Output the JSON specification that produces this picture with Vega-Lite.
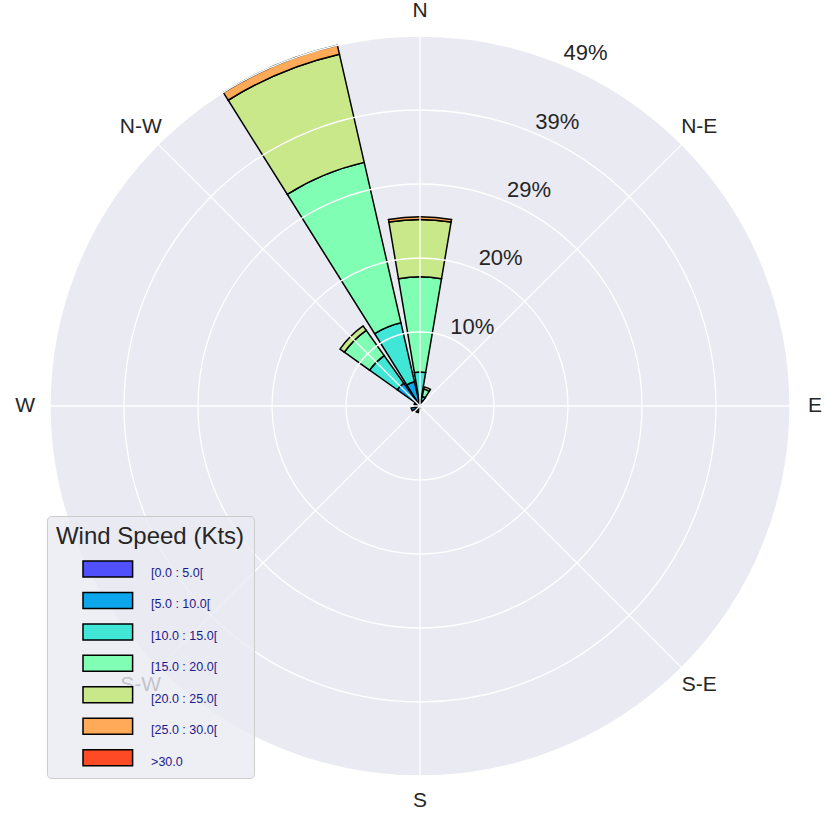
{
  "$schema": "https://vega.github.io/schema/vega-lite/v6.json",
  "autosize": "none",
  "width": 816,
  "height": 812,
  "padding": {"left": 12, "top": 0, "right": 0, "bottom": 3},
  "background": "white",
  "config": {"view": {"stroke": null}, "font": "Liberation Sans"},
  "datasets": {
    "wind": [
      {"dir": 337.5, "rank": 0, "bin": "[0.0 : 5.0[", "pct": 0.4},
      {"dir": 337.5, "rank": 1, "bin": "[5.0 : 10.0[", "pct": 2.9},
      {"dir": 337.5, "rank": 2, "bin": "[10.0 : 15.0[", "pct": 8.0},
      {"dir": 337.5, "rank": 3, "bin": "[15.0 : 20.0[", "pct": 21.8},
      {"dir": 337.5, "rank": 4, "bin": "[20.0 : 25.0[", "pct": 14.7},
      {"dir": 337.5, "rank": 5, "bin": "[25.0 : 30.0[", "pct": 1.2},
      {"dir": 0, "rank": 0, "bin": "[0.0 : 5.0[", "pct": 0.2},
      {"dir": 0, "rank": 1, "bin": "[5.0 : 10.0[", "pct": 0.6},
      {"dir": 0, "rank": 2, "bin": "[10.0 : 15.0[", "pct": 3.7},
      {"dir": 0, "rank": 3, "bin": "[15.0 : 20.0[", "pct": 12.6},
      {"dir": 0, "rank": 4, "bin": "[20.0 : 25.0[", "pct": 7.6},
      {"dir": 0, "rank": 5, "bin": "[25.0 : 30.0[", "pct": 0.35},
      {"dir": 315, "rank": 0, "bin": "[0.0 : 5.0[", "pct": 0.5},
      {"dir": 315, "rank": 1, "bin": "[5.0 : 10.0[", "pct": 3.2},
      {"dir": 315, "rank": 2, "bin": "[10.0 : 15.0[", "pct": 4.5},
      {"dir": 315, "rank": 3, "bin": "[15.0 : 20.0[", "pct": 4.1},
      {"dir": 315, "rank": 4, "bin": "[20.0 : 25.0[", "pct": 0.7},
      {"dir": 22.5, "rank": 0, "bin": "[0.0 : 5.0[", "pct": 0.2},
      {"dir": 22.5, "rank": 1, "bin": "[5.0 : 10.0[", "pct": 0.5},
      {"dir": 22.5, "rank": 2, "bin": "[10.0 : 15.0[", "pct": 0.6},
      {"dir": 22.5, "rank": 3, "bin": "[15.0 : 20.0[", "pct": 1.0},
      {"dir": 22.5, "rank": 4, "bin": "[20.0 : 25.0[", "pct": 0.3},
      {"dir": 45, "rank": 0, "bin": "[0.0 : 5.0[", "pct": 0.2},
      {"dir": 292.5, "rank": 0, "bin": "[0.0 : 5.0[", "pct": 0.4},
      {"dir": 292.5, "rank": 1, "bin": "[5.0 : 10.0[", "pct": 0.4},
      {"dir": 270, "rank": 0, "bin": "[0.0 : 5.0[", "pct": 0.4},
      {"dir": 270, "rank": 1, "bin": "[5.0 : 10.0[", "pct": 0.3},
      {"dir": 247.5, "rank": 0, "bin": "[0.0 : 5.0[", "pct": 0.6},
      {"dir": 247.5, "rank": 1, "bin": "[5.0 : 10.0[", "pct": 0.6},
      {"dir": 225, "rank": 0, "bin": "[0.0 : 5.0[", "pct": 0.5},
      {"dir": 225, "rank": 1, "bin": "[5.0 : 10.0[", "pct": 0.4},
      {"dir": 202.5, "rank": 0, "bin": "[0.0 : 5.0[", "pct": 0.6},
      {"dir": 202.5, "rank": 1, "bin": "[5.0 : 10.0[", "pct": 0.3},
      {"dir": 180, "rank": 0, "bin": "[0.0 : 5.0[", "pct": 0.3}
    ],
    "rings": [
      {"r": 9.8, "lab": "10%"},
      {"r": 19.6, "lab": "20%"},
      {"r": 29.4, "lab": "29%"},
      {"r": 39.2, "lab": "39%"},
      {"r": 49.0, "lab": "49%"}
    ],
    "compass": [
      {"a": 0, "t": "N"},
      {"a": 45, "t": "N-E"},
      {"a": 90, "t": "E"},
      {"a": 135, "t": "S-E"},
      {"a": 180, "t": "S"},
      {"a": 225, "t": "S-W"},
      {"a": 270, "t": "W"},
      {"a": 315, "t": "N-W"}
    ]
  },
  "layer": [
    {
      "data": {"values": [{}]},
      "mark": {"type": "arc", "fill": "#eaeaf2", "stroke": null},
      "encoding": {
        "theta": {"datum": 0, "type": "quantitative", "stack": null,
          "scale": {"type": "linear", "domain": [0, 360], "range": [0, 6.283185307179586], "zero": false, "nice": false}},
        "theta2": {"datum": 360},
        "radius": {"datum": 49, "type": "quantitative", "stack": null,
          "scale": {"type": "linear", "domain": [0, 49], "range": [0, 370], "zero": false, "nice": false}}
      }
    },
    {
      "data": {"name": "wind"},
      "transform": [
        {"window": [{"op": "sum", "field": "pct", "as": "cum"}], "groupby": ["dir"], "sort": [{"field": "rank", "order": "ascending"}], "frame": [null, 0]},
        {"calculate": "datum.cum - datum.pct", "as": "cum0"},
        {"calculate": "datum.dir - 9.6", "as": "a0"},
        {"calculate": "datum.dir + 9.6", "as": "a1"}
      ],
      "mark": {"type": "arc", "stroke": "black", "strokeWidth": 1.5},
      "encoding": {
        "theta": {"field": "a0", "type": "quantitative", "stack": null,
          "scale": {"type": "linear", "domain": [0, 360], "range": [0, 6.283185307179586], "zero": false, "nice": false}},
        "theta2": {"field": "a1"},
        "radius": {"field": "cum", "type": "quantitative", "stack": null,
          "scale": {"type": "linear", "domain": [0, 49], "range": [0, 370], "zero": false, "nice": false}},
        "radius2": {"field": "cum0"},
        "color": {
          "field": "bin", "type": "nominal", "sort": null,
          "scale": {
            "domain": ["[0.0 : 5.0[", "[5.0 : 10.0[", "[10.0 : 15.0[", "[15.0 : 20.0[", "[20.0 : 25.0[", "[25.0 : 30.0[", ">30.0"],
            "range": ["#5050fc", "#0ca6ec", "#40e6d6", "#80feb4", "#c8e88a", "#ffaa58", "#ff4a26"]
          },
          "legend": {
            "title": "Wind Speed (Kts)",
            "orient": "none",
            "legendX": 35,
            "legendY": 516,
            "direction": "vertical",
            "fillColor": "rgba(234,234,242,0.8)",
            "strokeColor": "#cccccc",
            "cornerRadius": 4,
            "padding": 9,
            "titleFont": "Liberation Sans",
            "titleFontSize": 24,
            "titleFontWeight": "normal",
            "titleColor": "#262626",
            "titleAnchor": "middle",
            "titlePadding": 11,
            "titleLimit": 400,
            "labelFont": "Liberation Sans",
            "labelFontSize": 12.5,
            "labelColor": "#1a1a8c",
            "labelOffset": 34.3,
            "labelLimit": 300,
            "labelBaseline": "middle",
            "symbolType": "M-3.1,-1H3.1V1H-3.1Z",
            "symbolSize": 256,
            "symbolStrokeColor": "black",
            "symbolStrokeWidth": 1.5,
            "symbolOffset": 15.8,
            "symbolOpacity": 1,
            "rowPadding": 9.45,
            "encode": {"labels": {"update": {"dy": {"value": 4}}}}
          }
        }
      }
    },
    {
      "data": {"name": "rings"},
      "mark": {"type": "arc", "filled": false, "fill": null, "stroke": "white", "strokeWidth": 1.3},
      "encoding": {
        "theta": {"datum": 0, "type": "quantitative", "stack": null,
          "scale": {"type": "linear", "domain": [0, 360], "range": [0, 6.283185307179586], "zero": false, "nice": false}},
        "theta2": {"datum": 360},
        "radius": {"field": "r", "type": "quantitative", "stack": null,
          "scale": {"type": "linear", "domain": [0, 49], "range": [0, 370], "zero": false, "nice": false}}
      }
    },
    {
      "data": {"name": "compass"},
      "mark": {"type": "arc", "filled": false, "fill": null, "stroke": "white", "strokeWidth": 1.3},
      "encoding": {
        "theta": {"field": "a", "type": "quantitative", "stack": null,
          "scale": {"type": "linear", "domain": [0, 360], "range": [0, 6.283185307179586], "zero": false, "nice": false}},
        "theta2": {"field": "a"},
        "radius": {"datum": 49, "type": "quantitative", "stack": null,
          "scale": {"type": "linear", "domain": [0, 49], "range": [0, 370], "zero": false, "nice": false}}
      }
    },
    {
      "data": {"name": "compass"},
      "mark": {"type": "text", "font": "Liberation Sans", "fontSize": 21, "color": "#262626", "align": "center", "baseline": "middle"},
      "encoding": {
        "theta": {"field": "a", "type": "quantitative", "stack": null,
          "scale": {"type": "linear", "domain": [0, 360], "range": [0, 6.283185307179586], "zero": false, "nice": false}},
        "radius": {"datum": 52.3, "type": "quantitative", "stack": null,
          "scale": {"type": "linear", "domain": [0, 49], "range": [0, 370], "zero": false, "nice": false}},
        "text": {"field": "t"}
      }
    },
    {
      "data": {"name": "rings"},
      "mark": {"type": "text", "font": "Liberation Sans", "fontSize": 22, "color": "#262626", "align": "left", "baseline": "alphabetic", "dx": 2, "dy": -4},
      "encoding": {
        "theta": {"datum": 22.5, "type": "quantitative", "stack": null,
          "scale": {"type": "linear", "domain": [0, 360], "range": [0, 6.283185307179586], "zero": false, "nice": false}},
        "radius": {"field": "r", "type": "quantitative", "stack": null,
          "scale": {"type": "linear", "domain": [0, 49], "range": [0, 370], "zero": false, "nice": false}},
        "text": {"field": "lab"}
      }
    }
  ]
}
